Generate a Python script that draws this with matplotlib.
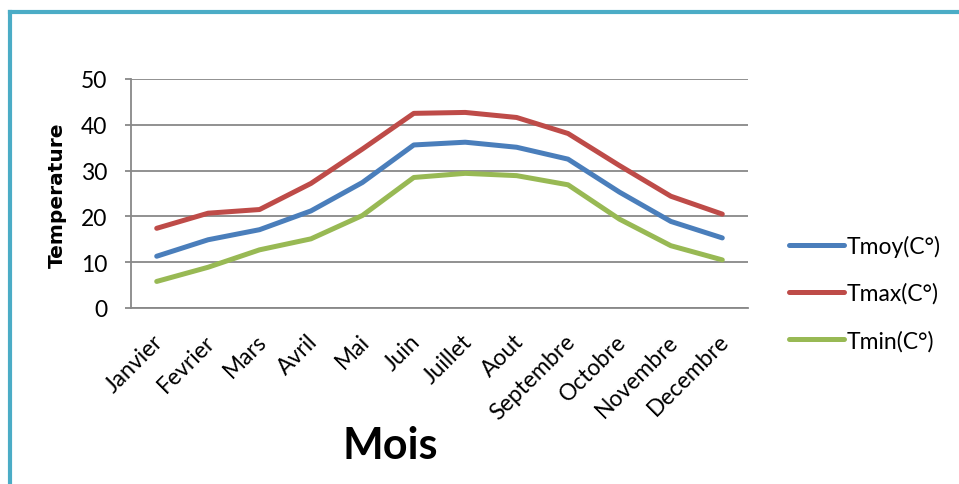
import matplotlib
matplotlib.use("Agg")
import matplotlib.pyplot as plt
from matplotlib.lines import Line2D
from matplotlib.transforms import ScaledTranslation

# Monthly temperatures (°C)
mois = ["Janvier", "Fevrier", "Mars", "Avril", "Mai", "Juin", "Juillet",
        "Aout", "Septembre", "Octobre", "Novembre", "Decembre"]
tmoy = [11.3, 14.9, 17.1, 21.2, 27.4, 35.6, 36.2, 35.1, 32.5, 25.3, 18.9, 15.3]
tmax = [17.4, 20.7, 21.5, 27.2, 34.7, 42.5, 42.7, 41.6, 38.1, 31.1, 24.4, 20.5]
tmin = [5.8, 8.9, 12.7, 15.1, 20.2, 28.5, 29.4, 28.9, 26.9, 19.4, 13.6, 10.5]
y_ticks = [0, 10, 20, 30, 40, 50]

W, H = 959, 485
fig = plt.figure(figsize=(W / 100, H / 100), dpi=100)
plt.rcParams["font.family"] = ["Lato", "DejaVu Sans"]
FS = 16.5

ax = fig.add_axes([131 / W, 1 - 309 / H, (748 - 131) / W, (309 - 80) / H])

x = list(range(len(mois)))
series = [
    (tmoy, "#4A7EBB", "Tmoy(C°)"),
    (tmax, "#BE4B48", "Tmax(C°)"),
    (tmin, "#98B954", "Tmin(C°)"),
]
for vals, col, lab in series:
    ax.plot(x, vals, color=col, lw=3.6, solid_capstyle="round",
            solid_joinstyle="round", label=lab, zorder=3)

ax.set_xlim(-0.5, len(mois) - 0.5)
ax.set_ylim(0, 50)
ax.set_yticks(y_ticks)
ax.set_yticklabels([str(v) for v in y_ticks], fontsize=FS)
ax.yaxis.grid(True, color="#888888", lw=1.3)
ax.set_axisbelow(True)
ax.tick_params(axis="y", length=4, color="#888888", width=1.3, pad=13)

ax.set_xticks(x)
ax.set_xticklabels(mois, rotation=45, ha="right", rotation_mode="anchor",
                   fontsize=FS)
ax.tick_params(axis="x", length=0, pad=16)
shift = ScaledTranslation(-4 / 100, 0, fig.dpi_scale_trans)
for lbl in ax.get_xticklabels():
    lbl.set_transform(lbl.get_transform() + shift)

for s in ("top", "right"):
    ax.spines[s].set_visible(False)
for s in ("left", "bottom"):
    ax.spines[s].set_color("#888888")
    ax.spines[s].set_linewidth(1.3)

fig.text(57 / W, 1 - 195 / H, "Temperature", rotation=90, ha="center",
         va="center", fontsize=14.5, fontweight="bold",
         family=["DejaVu Sans"])
fig.text(390 / W, 1 - 446 / H, "Mois", ha="center", va="center",
         fontsize=31, fontweight="bold")

# Legend
handles = [Line2D([], [], color=c, lw=3.6, solid_capstyle="round")
           for _, c, _ in series]
fig.legend(handles, [s[2] for s in series], loc="center left",
           bbox_to_anchor=(768 / W, 1 - 294 / H), frameon=False,
           fontsize=FS, handlelength=2.4, handletextpad=0.13,
           labelspacing=1.13)

# Frame border
fig.add_artist(Line2D([10 / W, 1], [1 - 13 / H, 1 - 13 / H], color="#4BACC6",
                      lw=3, transform=fig.transFigure))
fig.add_artist(Line2D([10 / W, 10 / W], [0, 1 - 13 / H], color="#4BACC6",
                      lw=3, transform=fig.transFigure))

fig.savefig("out.png", dpi=100)
